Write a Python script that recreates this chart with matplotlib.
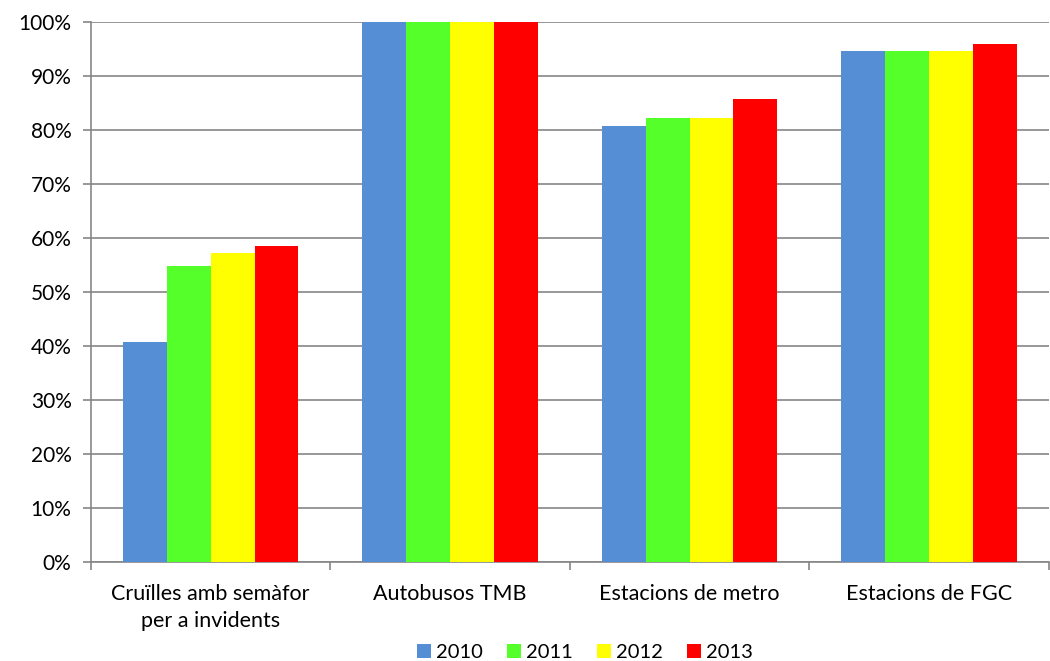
import numpy as np
import matplotlib
matplotlib.use("Agg")
import matplotlib.pyplot as plt
from matplotlib.ticker import FixedLocator, PercentFormatter

categories = ["Cruïlles amb semàfor\nper a invidents", "Autobusos TMB",
              "Estacions de metro", "Estacions de FGC"]
years = ["2010", "2011", "2012", "2013"]
v2010 = [40.7, 100.0, 80.7, 94.6]
v2011 = [54.8, 100.0, 82.3, 94.6]
v2012 = [57.3, 100.0, 82.3, 94.6]
v2013 = [58.6, 100.0, 85.8, 95.9]
colors = ["#558ED5", "#55FF2A", "#FFFF00", "#FF0000"]

plt.rcParams["font.family"] = ["Lato", "DejaVu Sans"]
GRID = "#868686"

fig = plt.figure(figsize=(10.5, 6.61), dpi=100)
ax = fig.add_axes([0.0867, 0.150, 0.912, 0.8167])

x = np.arange(len(categories))
w = 0.1833
for i, (vals, yr, c) in enumerate(zip([v2010, v2011, v2012, v2013], years, colors)):
    ax.bar(x + (i - 1.5) * w, vals, width=w, color=c, label=yr, zorder=3)

ax.set_xlim(-0.5, len(categories) - 0.5)
ax.set_ylim(0, 100)
ax.set_yticks(np.arange(0, 101, 10))
ax.yaxis.set_major_formatter(PercentFormatter(decimals=0))
ax.grid(axis="y", color=GRID, lw=1.2, zorder=0)

# category labels centred, tick marks on the boundaries
ax.set_xticks(x)
ax.set_xticklabels(categories, fontsize=15.5, linespacing=1.45)
ax.tick_params(axis="x", which="major", length=0, pad=16)
ax.xaxis.set_minor_locator(FixedLocator(np.arange(-0.5, len(categories), 1.0)))
ax.tick_params(axis="x", which="minor", length=6, color=GRID, width=1.2)
ax.tick_params(axis="y", length=6, color=GRID, width=1.2, labelsize=15, pad=8)

for s in ["top", "right"]:
    ax.spines[s].set_visible(False)
for s in ["left", "bottom"]:
    ax.spines[s].set_color(GRID)
    ax.spines[s].set_linewidth(1.2)

fig.legend(loc="lower center", bbox_to_anchor=(0.557, -0.024), ncol=4, frameon=False,
           fontsize=14.5, handlelength=0.7, handleheight=0.7, handletextpad=0.25,
           columnspacing=1.2, borderpad=0.3)

fig.savefig("out.png", dpi=100)
